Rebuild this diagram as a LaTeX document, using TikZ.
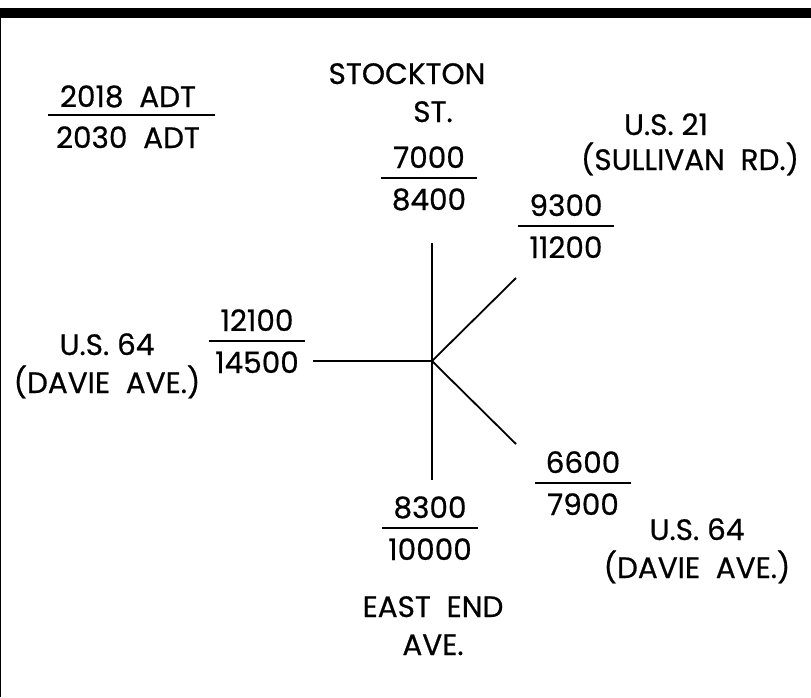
\documentclass[tikz,border=0pt]{standalone}
\usepackage{fontspec}
\setmainfont{Poppins}[FakeBold=0.6]
\usetikzlibrary{positioning}

\begin{document}
\begin{tikzpicture}[x=1pt, y=-1pt,
  every node/.style={inner sep=0pt, anchor=base,
                     font=\fontsize{29.5}{38}\selectfont},
  road/.style={line width=1.8pt},
  bar/.style={line width=2pt}]
\useasboundingbox (0,0) rectangle (811,697);
% frame
\fill (0,8) rectangle (811,18);
\draw[line width=1.2pt] (0.6,18) -- (0.6,697);

% legend
\node (yr2018) at (128,107) {2018~~ADT};
\node[below=41pt of yr2018.base, anchor=base] (yr2030) {2030~~ADT};
\draw[bar] (48,115) -- (215,115);

% volumes: x / rule y / 2018 / 2030
\foreach \x/\y/\now/\later in {429/178/7000/8400, 566/226/9300/11200,
    257/341/12100/14500, 583/483/6600/7900, 430/528/8300/10000}{
  \node (v\now) at (\x,\y-10) {\now};
  \node (v\later) at (\x,\y+32) {\later};
  \draw[bar] (\x-48,\y) -- (\x+48,\y);
}

% intersection legs
\coordinate (hub) at (432,361);
\coordinate (north) at (432,243);
\coordinate (south) at (432,480);
\coordinate (west) at (313,361);
\coordinate (ne) at (516,278);
\coordinate (se) at (516,444);
\draw[road] (north) -- (south);
\draw[road] (west) -- (hub);
\draw[road] (hub) -- (ne);
\draw[road] (hub) -- (se);

% street names
\node (stockton) at (407,84) {STOCKTON};
\node (stocktonst) at (433,122) {ST.};
\node (us21) at (666,135) {U.S.~21};
\node (sullivan) at (690,170) {(SULLIVAN~~RD.)};
\node (us64w) at (107,355) {U.S.~64};
\node[below=38pt of us64w.base, anchor=base] (daview) {(DAVIE~~AVE.)};
\node (us64e) at (697,540) {U.S.~64};
\node[below=38pt of us64e.base, anchor=base] (daviee) {(DAVIE~~AVE.)};
\node (eastend) at (433,617) {EAST~~END};
\node[below=38pt of eastend.base, anchor=base] (eastave) {AVE.};
\end{tikzpicture}
\end{document}
